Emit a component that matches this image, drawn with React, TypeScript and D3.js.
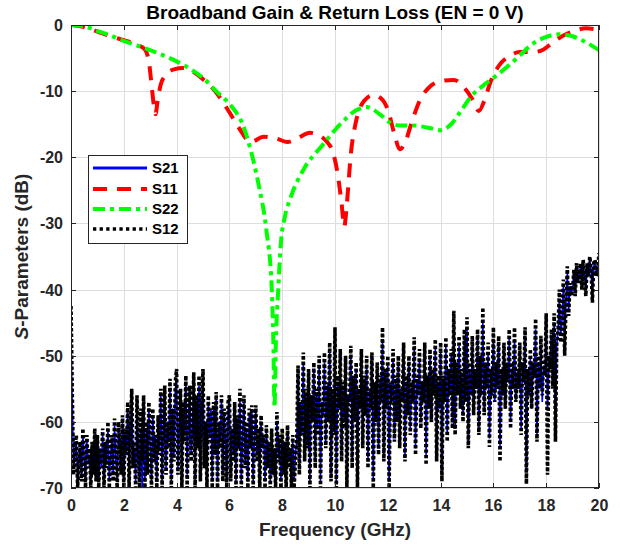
import React from "react";
import * as d3 from "d3";

// ---------- data ----------
const xTicks = [0, 2, 4, 6, 8, 10, 12, 14, 16, 18, 20];
const yTicks = [0, -10, -20, -30, -40, -50, -60, -70];

// S11 (red dashed) – frequency (GHz) / dB
const s11Freq = [0, 0.5, 1, 1.5, 2, 2.5, 2.8, 2.95, 3.05, 3.15, 3.2, 3.28, 3.4, 3.6, 3.9, 4.25, 4.6, 5.0, 5.5, 6.0, 6.4, 6.8, 7.3, 7.8, 8.2, 8.6, 9.05, 9.4, 9.7, 9.9, 10.1, 10.25, 10.35, 10.45, 10.6, 10.8, 11.1, 11.45, 11.75, 12.0, 12.25, 12.45, 12.65, 12.9, 13.2, 13.6, 14.0, 14.5, 14.9, 15.2, 15.45, 15.65, 15.9, 16.2, 16.6, 17.0, 17.5, 17.9, 18.2, 18.6, 19.0, 19.5, 19.8, 20.0];
const s11Val = [0, -0.3, -1.0, -1.7, -2.3, -3.0, -3.7, -5.5, -9, -12.5, -13.5, -11.5, -9.0, -7.5, -6.7, -6.5, -7.0, -8.2, -10.2, -13.2, -15.8, -17.7, -16.9, -17.2, -17.7, -17.1, -16.3, -16.7, -17.7, -19, -22.5, -27, -30.5, -27, -19.5, -14.5, -11.5, -10.6, -11.1, -12.8, -16.5, -18.8, -17.8, -14.8, -11.5, -9.3, -8.5, -8.3, -9.5, -11.2, -13, -11.5, -8.5, -6.2, -4.7, -4.1, -4.1, -3.7, -2.8, -1.7, -1.0, -0.5, -0.6, -1.0];

// S22 (green dash-dot)
const s22Freq = [0, 0.5, 1, 1.5, 2, 2.5, 3, 3.5, 4, 4.5, 5, 5.5, 6.1, 6.5, 6.8, 7.1, 7.4, 7.6, 7.66, 7.71, 7.76, 7.85, 7.95, 8.1, 8.3, 8.8, 9.5, 10.3, 10.8, 11.2, 11.7, 12.1, 12.5, 13.0, 13.5, 14.0, 14.4, 14.8, 15.2, 15.6, 16.0, 16.5, 17.0, 17.5, 18.0, 18.5, 19.0, 19.5, 20.0];
const s22Val = [0, -0.2, -0.9, -1.6, -2.4, -3.1, -3.8, -4.6, -5.5, -6.6, -8.0, -10.0, -12.4, -15.0, -18.8, -24, -31, -39.5, -47, -57.8, -48, -40, -33, -29, -26.3, -21.9, -18.3, -14.6, -12.9, -12.4, -13.5, -14.8, -15.2, -15.2, -15.5, -15.9, -15.0, -12.8, -10.6, -9.2, -8.0, -6.4, -4.6, -2.8, -1.8, -1.4, -1.7, -2.6, -3.8];

// S12 (black dotted) – sampled every 0.05 GHz from 0 to 20 GHz (one row per GHz)
const s12Val = [
  -42.5, -56, -68, -64, -62, -70, -66, -63, -69, -61, -65, -70, -62, -67, -64, -70, -63, -68, -61, -69,
  -62, -70, -64, -66, -61, -70, -63, -67, -60, -70, -65, -62, -69, -59.5, -66, -70, -60, -64, -68, -59,
  -70, -61, -65, -57, -70, -62, -55, -67, -63, -70, -56, -64, -70, -58, -66, -56, -70, -60, -68, -57,
  -64, -70, -58, -66, -62, -70, -59, -65, -55, -70, -61, -54.5, -68, -60, -64, -53.5, -70, -58, -66, -54,
  -52, -68, -60, -55, -70, -57, -63, -53, -70, -59, -54.5, -66, -61, -52.5, -70, -56, -64, -53, -69, -58,
  -52, -67, -60, -70, -56, -63, -58, -70, -57, -65, -55.5, -70, -60, -64, -56, -69, -58, -63, -70, -57,
  -56, -69, -61, -66, -57, -70, -59, -64, -55, -70, -62, -56, -67, -60, -70, -58, -64, -57.5, -70, -62,
  -57.5, -66, -61, -70, -59, -64, -62, -70, -60.5, -67, -63, -70, -61, -68, -64, -70, -58.5, -66, -62, -70,
  -61, -68, -63, -70, -60.5, -67, -64, -70, -62, -70, -66, -63, -51.5, -68, -57, -62, -49.5, -66, -55, -64,
  -52, -70, -56, -60, -51, -67, -55, -62, -50, -70, -57, -59, -49.5, -64, -54, -60, -48, -69, -55, -62,
  -45.7, -70, -53, -58, -49, -66, -54, -61, -50, -70, -56, -57, -48.5, -67, -53, -60, -51, -70, -55, -58,
  -49, -64, -53, -59, -50, -67, -55, -58, -49.5, -70, -54, -60, -51, -65, -53, -57, -45.7, -66, -52, -58,
  -50, -70, -54, -57, -49, -63, -53, -60, -50, -64, -55, -57, -48, -66, -53, -59, -50, -62, -54, -57,
  -47.2, -65, -53, -56, -49, -61, -54, -57, -48, -66.5, -53, -58, -49, -60, -52, -56, -47.5, -66, -53, -58,
  -48, -69, -53, -57, -47.2, -63, -52, -56, -49, -61, -43.2, -62, -51, -56, -47, -58, -52, -60, -46, -57,
  -44.2, -64, -51, -56, -47, -59, -52, -55, -46, -62, -50, -56, -42.7, -59, -51, -55, -48, -63.8, -52, -56,
  -45.7, -57, -51, -55, -47, -66, -52, -56, -48, -58, -51, -54, -46, -61, -51, -55, -45.7, -57, -52, -55,
  -48, -62, -51, -54, -45.7, -69.4, -52, -56, -49, -58, -51, -53, -44.4, -63, -50, -55, -47, -56, -51, -53,
  -43.6, -68, -50, -52, -46, -55, -43.6, -63, -48, -46, -40, -48, -44, -38.5, -50, -42, -36.5, -44, -39, -41,
  -40, -37, -41, -36, -39, -38, -36, -40, -35.5, -38, -41, -36, -38, -35, -37, -42, -36, -35.5, -38, -37,
  -34.5,
];

// S21 (blue solid) – sampled every 0.05 GHz from 0 to 20 GHz (one row per GHz)
const s21Val = [
  -47.5, -58, -67, -65, -63, -69, -66, -64, -68, -62, -66, -69, -63, -66, -65, -69, -64, -67, -62, -68,
  -63, -69, -64, -67, -62, -69, -64, -66, -61, -69, -65, -63, -68, -60.5, -66, -69, -61, -64, -67, -60,
  -69, -62, -65, -58, -69, -62, -56.5, -66, -64, -69, -57, -64, -69, -61, -71, -57, -69, -61, -67, -58,
  -64, -69, -59, -65, -62, -69, -60, -64, -56, -69, -61, -55.5, -67, -60, -63, -55, -69, -58, -65, -55,
  -53.5, -67, -60, -56, -69, -58, -62, -54.5, -68, -59, -55.5, -65, -61, -54, -69, -57, -63, -54.5, -68, -58,
  -53.5, -66, -60, -69, -57, -62, -58, -69, -58, -64, -56.5, -69, -60, -63, -57, -68, -59, -63, -69, -58,
  -57, -68, -61, -65, -58, -69, -60, -64, -56.5, -69, -62, -57, -66, -61, -69, -59, -64, -58.5, -69, -62,
  -58.5, -65, -62, -69, -60, -64, -62, -69, -61.5, -66, -63, -69, -62, -67, -64, -69, -60, -65, -63, -69,
  -62, -67, -63, -69, -61.5, -66, -64, -69, -63, -69, -65, -63, -53, -67, -57, -62, -51, -65, -56, -63,
  -53, -69, -56, -60, -52, -66, -56, -61, -51.5, -69, -57, -59, -51, -63, -55, -60, -49.5, -68, -56, -61,
  -48, -69, -54, -58, -50.5, -65, -55, -60, -51.5, -69, -56, -57, -50, -66, -54, -60, -52, -69, -56, -58,
  -50.5, -63, -54, -59, -51.5, -66, -55, -58, -51, -69, -55, -60, -52, -64, -54, -57, -48, -65, -53, -58,
  -51.5, -69, -55, -57, -50.5, -62, -54, -60, -51.5, -63, -55, -57, -49.5, -65, -54, -59, -51, -61, -55, -57,
  -49, -64, -54, -56, -50.5, -60, -54, -57, -49.5, -65, -54, -58, -50.5, -59, -53, -56, -49, -65, -54, -58,
  -49.5, -68, -54, -57, -48.5, -62, -53, -56, -50, -60, -46, -61, -52, -56, -48.5, -58, -53, -59, -47.5, -57,
  -46, -63, -52, -56, -48.5, -58, -53, -55, -47.5, -61, -51, -56, -45, -58, -52, -55, -49.5, -62.5, -53, -56,
  -47.5, -57, -52, -55, -48.5, -64, -53, -56, -49.5, -58, -52, -54, -47.5, -60, -52, -55, -47.5, -57, -53, -55,
  -49.5, -61, -52, -54, -47.5, -67, -53, -56, -50.5, -58, -52, -53, -46, -62, -51, -55, -48.5, -57, -52, -53,
  -45.5, -58, -52, -50, -47, -54, -45, -61, -48.5, -46, -41.5, -47, -44.5, -39.5, -48.5, -42, -37.5, -43, -39.5, -40.5,
  -40, -37.5, -40.5, -36.5, -39, -38, -36.5, -39.5, -36, -38, -40, -36.5, -38, -35.5, -37, -41, -36.5, -36, -37.5, -37,
  -35.5,
];
const s12Freq = s12Val.map((_, i) => i / 20);
const s21Freq = s21Val.map((_, i) => i / 20);

const legendNames = ["S21", "S11", "S22", "S12"];

// ---------- layout ----------
const W = 620, H = 548;
const L = 71, R = 599, T = 25, B = 488;
const FONT = "'Liberation Sans', Arial, Helvetica, sans-serif";
const AX = "#262626";

export default function App() {
  const x = d3.scaleLinear().domain([0, 20]).range([L, R]);
  const y = d3.scaleLinear().domain([-70, 0]).range([B, T]);

  const smooth = d3.line<[number, number]>().x(d => x(d[0])).y(d => y(d[1])).curve(d3.curveMonotoneX);
  const straight = d3.line<[number, number]>().x(d => x(d[0])).y(d => y(d[1]));

  const s11 = smooth(s11Freq.map((f, i) => [f, s11Val[i]]))!;
  const s22 = smooth(s22Freq.map((f, i) => [f, s22Val[i]]))!;
  const s12 = straight(s12Freq.map((f, i) => [f, s12Val[i]]))!;
  const s21 = straight(s21Freq.map((f, i) => [f, s21Val[i]]))!;

  const styles: Record<string, any> = {
    S21: { stroke: "#0000ff", strokeWidth: 3, dash: undefined },
    S11: { stroke: "#ff0000", strokeWidth: 4, dash: "14 10" },
    S22: { stroke: "#00ff00", strokeWidth: 4, dash: "12 5 4 5" },
    S12: { stroke: "#000000", strokeWidth: 3.3, dash: "3.3 3.3" },
  };

  const legendY = [168, 189, 209, 229];

  return (
    <svg width={W} height={H} style={{ position: "absolute", left: 0, top: 0, background: "#fff" }} fontFamily={FONT}>
      <defs>
        <clipPath id="plot">
          <rect x={L} y={T} width={R - L} height={B - T} />
        </clipPath>
      </defs>
      <rect x={0} y={0} width={W} height={H} fill="#fff" />
      {/* grid */}
      {xTicks.map(t => (
        <line key={"gx" + t} x1={Math.round(x(t)) + 0.5} x2={Math.round(x(t)) + 0.5} y1={T} y2={B} stroke="#dedede" strokeWidth={1} />
      ))}
      {yTicks.map(t => (
        <line key={"gy" + t} x1={L} x2={R} y1={Math.round(y(t)) + 0.5} y2={Math.round(y(t)) + 0.5} stroke="#dedede" strokeWidth={1} />
      ))}
      {/* series */}
      <g clipPath="url(#plot)" fill="none" strokeLinejoin="miter">
        <path d={s21} stroke={styles.S21.stroke} strokeWidth={1.6} />
        <path d={s11} stroke={styles.S11.stroke} strokeWidth={styles.S11.strokeWidth} strokeDasharray={styles.S11.dash} />
        <path d={s22} stroke={styles.S22.stroke} strokeWidth={styles.S22.strokeWidth} strokeDasharray={styles.S22.dash} />
        <path d={s12} stroke={styles.S12.stroke} strokeWidth={3.6} strokeDasharray="3.3 2.2" />
      </g>
      {/* axes box */}
      <rect x={L + 0.5} y={T + 0.5} width={R - L - 1} height={B - T - 1} fill="none" stroke={AX} strokeWidth={1} />
      {/* ticks */}
      {xTicks.map(t => {
        const px = Math.round(x(t)) + 0.5;
        return (
          <g key={"tx" + t}>
            <line x1={px} x2={px} y1={B} y2={B - 5} stroke={AX} />
            <line x1={px} x2={px} y1={T} y2={T + 5} stroke={AX} />
            <text x={px} y={511} textAnchor="middle" fontSize={16} fontWeight="bold" fill={AX}>{t}</text>
          </g>
        );
      })}
      {yTicks.map(t => {
        const py = Math.round(y(t)) + 0.5;
        return (
          <g key={"ty" + t}>
            <line x1={L} x2={L + 5} y1={py} y2={py} stroke={AX} />
            <line x1={R} x2={R - 5} y1={py} y2={py} stroke={AX} />
            <text x={63} y={py} dy="0.36em" textAnchor="end" fontSize={16} fontWeight="bold" fill={AX}>{t}</text>
          </g>
        );
      })}
      {/* labels */}
      <text x={(L + R) / 2} y={19} textAnchor="middle" fontSize={19} fontWeight="bold" fill="#000">
        Broadband Gain &amp; Return Loss (EN = 0 V)
      </text>
      <text x={(L + R) / 2} y={536} textAnchor="middle" fontSize={19} fontWeight="bold" fill={AX}>
        Frequency (GHz)
      </text>
      <text transform={`translate(28,${(T + B) / 2}) rotate(-90)`} textAnchor="middle" fontSize={19} fontWeight="bold" fill={AX}>
        <tspan fontStyle="italic">S</tspan>
        <tspan>-Parameters (dB)</tspan>
      </text>
      {/* legend */}
      <rect x={88.5} y={155.5} width={99} height={88} fill="#fff" stroke={AX} strokeWidth={1} />
      {legendNames.map((n, i) => (
        <g key={n}>
          <line x1={93} x2={147} y1={legendY[i]} y2={legendY[i]} stroke={styles[n].stroke} strokeWidth={styles[n].strokeWidth} strokeDasharray={styles[n].dash} />
          <text x={152} y={legendY[i]} dy="0.36em" fontSize={15} fontWeight="bold" fill="#000">{n}</text>
        </g>
      ))}
    </svg>
  );
}
